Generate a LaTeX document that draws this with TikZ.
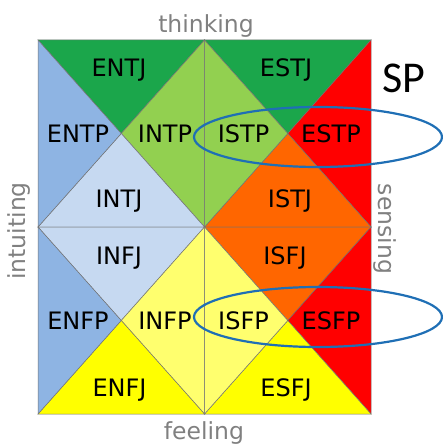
\documentclass[tikz,border=0pt]{standalone}
\usepackage{fontspec}
\setmainfont{DejaVu Sans}
\newfontfamily\spfont{Carlito}
\definecolor{dkgreen}{HTML}{1BA64B}
\definecolor{ltgreen}{HTML}{92D050}
\definecolor{mdblue}{HTML}{8EB4E3}
\definecolor{ltblue}{HTML}{C6D9F1}
\definecolor{myred}{HTML}{FF0000}
\definecolor{myorange}{HTML}{FF6600}
\definecolor{myyellow}{HTML}{FFFF00}
\definecolor{ltyellow}{HTML}{FFFF6E}
\definecolor{ringblue}{HTML}{1F6FB5}
\begin{document}
\begin{tikzpicture}[x=1pt,y=-1pt,
  tri/.style={draw=black!55, line width=0.5pt},
  lbl/.style={font=\fontsize{24}{24}\selectfont, text=black, anchor=base, inner sep=0pt},
  axis/.style={font=\fontsize{23.5}{23.5}\selectfont, text=black!50, anchor=base, inner sep=0pt},
  ring/.style={draw=ringblue, line width=2.2pt}]
\useasboundingbox (0,0) rectangle (442,446);
% grid corners
\coordinate (p00) at (38,40);   \coordinate (p10) at (204.5,40);  \coordinate (p20) at (371,40);
\coordinate (p01) at (38,227);  \coordinate (p11) at (204.5,227); \coordinate (p21) at (371,227);
\coordinate (p02) at (38,414);  \coordinate (p12) at (204.5,414); \coordinate (p22) at (371,414);
\coordinate (cA) at (121.25,133.5); \coordinate (cB) at (287.75,133.5);
\coordinate (cC) at (121.25,320.5); \coordinate (cD) at (287.75,320.5);
% quadrant A (top-left)
\filldraw[tri, fill=dkgreen] (p00) -- (p10) -- (cA) -- cycle;
\filldraw[tri, fill=ltgreen] (p10) -- (p11) -- (cA) -- cycle;
\filldraw[tri, fill=ltblue]  (p11) -- (p01) -- (cA) -- cycle;
\filldraw[tri, fill=mdblue]  (p01) -- (p00) -- (cA) -- cycle;
% quadrant B (top-right)
\filldraw[tri, fill=dkgreen]  (p10) -- (p20) -- (cB) -- cycle;
\filldraw[tri, fill=myred]    (p20) -- (p21) -- (cB) -- cycle;
\filldraw[tri, fill=myorange] (p21) -- (p11) -- (cB) -- cycle;
\filldraw[tri, fill=ltgreen]  (p11) -- (p10) -- (cB) -- cycle;
% quadrant C (bottom-left)
\filldraw[tri, fill=ltblue]   (p01) -- (p11) -- (cC) -- cycle;
\filldraw[tri, fill=ltyellow] (p11) -- (p12) -- (cC) -- cycle;
\filldraw[tri, fill=myyellow] (p12) -- (p02) -- (cC) -- cycle;
\filldraw[tri, fill=mdblue]   (p02) -- (p01) -- (cC) -- cycle;
% quadrant D (bottom-right)
\filldraw[tri, fill=myorange] (p11) -- (p21) -- (cD) -- cycle;
\filldraw[tri, fill=myred]    (p21) -- (p22) -- (cD) -- cycle;
\filldraw[tri, fill=myyellow] (p22) -- (p12) -- (cD) -- cycle;
\filldraw[tri, fill=ltyellow] (p12) -- (p11) -- (cD) -- cycle;
% type labels
\node[lbl] (entj) at (119,76.7) {ENTJ};
\node[lbl] (entp) at (78,142.2) {ENTP};
\node[lbl] (intp) at (165,142.2) {INTP};
\node[lbl] (intj) at (119,207.7) {INTJ};
\node[lbl] (estj) at (286,76.7) {ESTJ};
\node[lbl] (istp) at (243.5,142.2) {ISTP};
\node[lbl] (estp) at (331,142.2) {ESTP};
\node[lbl] (istj) at (290,207.7) {ISTJ};
\node[lbl] (infj) at (119,264.7) {INFJ};
\node[lbl] (enfp) at (78,329.7) {ENFP};
\node[lbl] (infp) at (165,329.7) {INFP};
\node[lbl] (enfj) at (119.5,396.7) {ENFJ};
\node[lbl] (isfj) at (285,264.7) {ISFJ};
\node[lbl] (isfp) at (243.5,329.7) {ISFP};
\node[lbl] (esfp) at (331,329.7) {ESFP};
\node[lbl] (esfj) at (286,396.7) {ESFJ};
% axis labels
\node[axis] (thinking) at (206,32.3) {thinking};
\node[axis] (feeling) at (204,439) {feeling};
\node[axis, rotate=90] (intuiting) at (25,231) {intuiting};
\node[axis, rotate=-90] (sensing) at (378,229) {sensing};
% SP label and rings
\node[font=\spfont\fontsize{44}{44}\selectfont, anchor=base, inner sep=0pt] (sp) at (404,93) {SP};
\draw[ring] (318,137) ellipse [x radius=124, y radius=30];
\draw[ring] (318,317) ellipse [x radius=124, y radius=30];
\end{tikzpicture}
\end{document}
